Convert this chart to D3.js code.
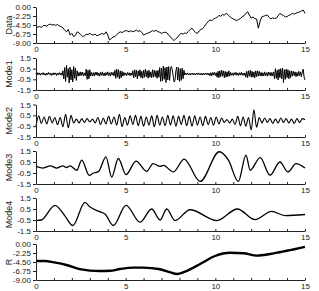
<!DOCTYPE html>
<html><head><meta charset="utf-8">
<script src="https://cdn.jsdelivr.net/npm/d3@7"></script>
<style>body{margin:0;background:#fff}svg{display:block}text{font-family:"Liberation Sans",Arial,sans-serif}</style>
</head><body><svg id="c" width="319" height="291"></svg>
<script>
const xTickValues=[0,1,2,3,4,5,6,7,8,9,10,11,12,13,14,15];
const xTickLabels=["0","","","","","5","","","","","10","","","","","15"];
const dataTicks=[0,-2.25,-4.5,-6.75,-9];
const dataTickLabels=["0.00","-2.25","-4.50","-6.75","-9.00"];
const modeTicks=[1.5,0.5,-0.5,-1.5];
const modeTickLabels=["1.5","0.5","-0.5","-1.5"];
const panelNames=["Data","Mode1","Mode2","Mode3","Mode4","R"];

const dataStep=0.1;
const dataV=[-5.3,-5.0,-4.9,-5.1,-4.7,-4.6,-4.8,-4.4,-4.3,-4.5,-4.4,-4.6,-4.4,-4.7,-4.9,-5.2,-5.8,-6.2,-5.6,-7.0,
-6.6,-7.4,-7.1,-6.2,-6.5,-6.9,-7.4,-7.2,-6.8,-6.9,-6.6,-6.9,-7.0,-6.8,-7.2,-7.0,-6.8,-6.6,-6.9,-6.2,
-7.0,-8.25,-7.9,-7.5,-7.4,-6.9,-6.5,-6.2,-6.4,-6.1,-5.9,-6.0,-6.2,-5.9,-6.2,-6.0,-5.8,-6.1,-5.9,-6.4,
-7.0,-6.8,-6.6,-6.4,-6.2,-5.9,-6.1,-5.8,-6.2,-6.3,-6.6,-6.4,-6.3,-6.5,-7.0,-7.5,-8.0,-8.4,-7.9,-7.6,
-6.9,-6.6,-6.8,-6.5,-6.6,-6.1,-5.6,-5.3,-5.9,-6.4,-6.6,-6.0,-5.6,-5.4,-4.8,-4.2,-3.6,-3.25,-3.4,-3.0,
-2.8,-2.6,-2.1,-2.3,-1.9,-2.0,-1.6,-1.9,-2.4,-2.7,-3.0,-3.2,-3.4,-3.1,-2.9,-2.4,-2.2,-1.6,-1.2,-2.0,
-2.8,-2.5,-2.9,-3.0,-5.3,-3.5,-2.4,-2.3,-2.1,-2.0,-2.6,-3.0,-2.7,-2.9,-2.8,-2.2,-1.6,-1.9,-2.1,-2.5,
-2.4,-2.1,-1.9,-1.6,-1.8,-1.5,-1.4,-1.2,-1.0,-0.75,-1.6];

const mode1Step=0.05;
const mode1V=[
0.05,-0.1,0.12,-0.06,0.1,-0.12,0.08,-0.04,0.13,-0.1,0.06,-0.12,0.1,-0.08,0.14,-0.05,0.09,-0.13,0.07,-0.1,0.12,-0.06,0.1,-0.14,0.08,-0.09,0.13,-0.07,0.1,-0.12,
0.3,-0.45,0.6,-0.7,0.8,-0.3,0.5,-0.85,0.65,-0.55,0.4,-0.75,0.7,-0.4,0.55,-0.6,0.3,
-0.2,0.15,-0.18,0.2,-0.12,0.18,-0.2,0.1,-0.15,
0.45,-0.5,0.35,-0.45,0.4,-0.2,
0.15,-0.18,0.12,-0.2,0.16,-0.1,0.18,-0.15,0.1,-0.2,0.15,-0.12,0.2,-0.16,0.1,-0.18,0.14,-0.1,0.2,-0.15,0.12,-0.2,0.16,-0.1,0.15,-0.18,
0.35,-0.4,0.45,-0.3,0.4,-0.45,0.3,-0.35,0.25,-0.2,
0.15,-0.12,0.1,-0.15,0.14,-0.1,0.12,-0.16,0.1,-0.12,
0.3,-0.35,0.4,-0.25,0.35,-0.45,0.3,-0.2,0.4,-0.35,0.25,-0.4,0.35,-0.3,0.45,-0.25,0.3,-0.4,0.35,-0.3,0.2,-0.35,0.4,-0.3,0.35,-0.25,0.3,-0.4,0.35,-0.3,
0.6,-0.7,0.55,-0.65,0.75,-0.5,0.6,-0.8,0.65,-0.55,0.7,-0.6,0.5,0.7,0.4,-0.2,-0.75,-0.6,0.3,0.65,-0.55,0.6,-0.7,0.5,-0.6,0.55,-0.45,0.35,
-0.1,0.08,-0.06,0.1,-0.08,0.05,-0.1,0.07,-0.05,0.09,-0.08,0.06,-0.1,0.08,-0.05,0.1,-0.07,0.06,-0.09,0.08,-0.1,0.05,-0.08,0.1,-0.06,0.08,-0.1,0.07,
-0.15,0.12,-0.18,0.15,-0.1,0.16,-0.14,0.12,
-0.3,0.25,-0.35,0.3,-0.25,0.35,-0.2,0.3,-0.35,0.25,-0.3,0.2,-0.25,0.3,-0.2,0.15,
-0.12,0.1,-0.15,0.12,-0.08,0.15,-0.12,0.1,-0.14,0.12,-0.1,0.15,-0.12,0.08,-0.13,0.1,
-0.3,0.25,-0.35,0.3,-0.2,0.35,-0.3,0.25,-0.3,0.2,-0.35,0.3,-0.25,0.3,-0.2,0.25,
-0.18,0.15,-0.2,0.12,-0.18,0.2,-0.15,0.12,-0.2,0.18,-0.12,0.15,-0.2,0.15,-0.18,0.2,
-0.45,0.5,-0.4,0.35,-0.55,0.45,-0.35,0.5,-0.45,0.55,-0.8,0.4,-0.5,0.45,-0.35,0.4,-0.45,0.3,-0.35,0.3,
-0.2,0.25,-0.15,0.2,-0.25,0.15,-0.2,0.25,-0.15,0.2,-0.25,0.2,
0.45,-0.3,-0.55];

const mode2Step=0.15;
const mode2V=[-0.5,
0.45,-0.25,0.35,-0.3,0.4,-0.2,0.3,-0.35,0.3,
-0.55,0.6,-0.65,0.5,
-0.2,0.15,-0.2,0.2,-0.15,0.2,-0.1,0.15,-0.2,
0.3,-0.35,0.25,-0.3,0.4,-0.3,0.35,-0.4,
0.6,-0.55,0.3,
-0.4,0.45,-0.35,0.5,-0.45,0.4,-0.5,0.35,-0.4,0.45,-0.55,0.5,-0.4,0.35,-0.45,0.5,-0.4,0.45,-0.5,0.4,-0.35,0.5,-0.45,0.4,-0.5,0.45,-0.4,0.35,-0.45,0.4,-0.35,0.3,-0.4,0.35,-0.3,0.25,
-0.15,0.1,-0.2,0.15,
-0.35,0.4,-0.45,0.35,-0.5,
0.3,-0.85,1.0,-0.6,
0.3,-0.2,0.25,-0.15,0.2,-0.25,0.15,-0.2,0.25,-0.15,0.2,-0.2,0.15,-0.25,0.2,-0.15,0.2,0.1];

const mode3T=[0,0.4,0.8,1.15,1.5,1.7,1.9,2.27,2.55,2.97,3.2,3.38,3.5,3.9,4.22,4.59,5.02,5.58,6.17,6.53,6.92,7.1,7.66,8.26,9.15,10.22,10.73,11.28,11.71,11.94,12.5,13.05,13.6,14.05,14.5,15];
const mode3V=[0.1,-0.05,0.15,-0.05,0.15,0.0,0.15,-0.25,0.67,-0.72,-0.5,-0.45,-0.35,0.97,-0.87,0.82,-0.65,0.58,-0.35,0.36,0.1,0.2,-0.4,0.76,-1.27,1.43,0.67,-1.27,1.13,-0.25,0.9,-0.7,0.5,-0.4,0.35,-0.05];

const mode4T=[0,0.3,1.06,1.6,2.05,2.73,3.0,3.48,3.85,4.31,5.02,5.8,6.45,6.92,7.29,7.75,8.59,10.08,11.23,12.21,13.14,13.89,15];
const mode4V=[-0.55,-0.5,0.83,-0.1,-1.0,1.1,0.7,0.3,0.05,-1.0,0.83,-0.7,0.5,-0.5,0.5,-0.55,0.43,-0.55,0.5,-0.47,0.28,-0.1,0.0];

const rT=[0,0.5,1.0,1.7,2.45,3.0,3.57,4.13,4.68,5.43,5.97,6.92,7.5,7.85,8.31,9.15,9.98,10.82,11.56,12.31,13.05,13.98,15];
const rV=[-4.25,-4.25,-4.6,-5.25,-6.3,-6.65,-6.75,-6.7,-6.25,-5.9,-5.9,-6.3,-7.1,-7.5,-6.9,-5.0,-3.0,-2.2,-2.3,-2.9,-2.5,-1.7,-0.7];

const svg=d3.select("#c");
const x=d3.scaleLinear().domain([0,15]).range([36,305]);

const layout=[
 {top:7,bottom:43,dom:[-9,0],ticks:dataTicks,labels:dataTickLabels,w:1.0},
 {top:58,bottom:90,dom:[-1.5,1.5],ticks:modeTicks,labels:modeTickLabels,w:1.0},
 {top:104.5,bottom:137,dom:[-1.5,1.5],ticks:modeTicks,labels:modeTickLabels,w:1.1},
 {top:151,bottom:184,dom:[-1.5,1.5],ticks:modeTicks,labels:modeTickLabels,w:1.3},
 {top:198,bottom:231,dom:[-1.5,1.5],ticks:modeTicks,labels:modeTickLabels,w:1.3},
 {top:244,bottom:280,dom:[-9,0],ticks:dataTicks,labels:dataTickLabels,w:2.4}
];
const series=[
 {pts:dataV.map((v,i)=>[i*dataStep,v]),curve:d3.curveLinear},
 {pts:mode1V.map((v,i)=>[i*mode1Step,v]),curve:d3.curveLinear},
 {pts:mode2V.map((v,i)=>[i*mode2Step,v]),curve:d3.curveMonotoneX},
 {pts:mode3T.map((t,i)=>[t,mode3V[i]]),curve:d3.curveMonotoneX},
 {pts:mode4T.map((t,i)=>[t,mode4V[i]]),curve:d3.curveMonotoneX},
 {pts:rT.map((t,i)=>[t,rV[i]]),curve:d3.curveMonotoneX}
];

layout.forEach((L,k)=>{
 const y=d3.scaleLinear().domain(L.dom).range([L.bottom,L.top]);
 const g=svg.append("g");
 const line=d3.line().x(d=>x(d[0])).y(d=>y(d[1])).curve(series[k].curve);
 g.append("path").datum(series[k].pts).attr("d",line).attr("fill","none").attr("stroke","#000").attr("stroke-width",L.w).attr("stroke-linejoin","round");
 const ya=d3.axisLeft(y).tickValues(L.ticks).tickFormat((d,i)=>L.labels[i]).tickSize(3).tickSizeOuter(0).tickPadding(2);
 const yg=g.append("g").attr("transform","translate(36,0)").call(ya);
 const xa=d3.axisBottom(x).tickValues(xTickValues).tickFormat((d,i)=>xTickLabels[i]).tickSize(-2).tickSizeOuter(0).tickPadding(3);
 const xg=g.append("g").attr("transform",`translate(0,${L.bottom})`).call(xa);
 [yg,xg].forEach(a=>{a.selectAll("text").attr("font-size",8).attr("fill","#222").attr("font-family","Liberation Sans, Arial, sans-serif");a.selectAll("line,path").attr("stroke","#222");});
 svg.append("text").attr("transform",`translate(12,${(L.top+L.bottom)/2}) rotate(-90)`).attr("text-anchor","middle").attr("font-size",9).attr("fill","#222").text(panelNames[k]);
});
</script></body></html>
